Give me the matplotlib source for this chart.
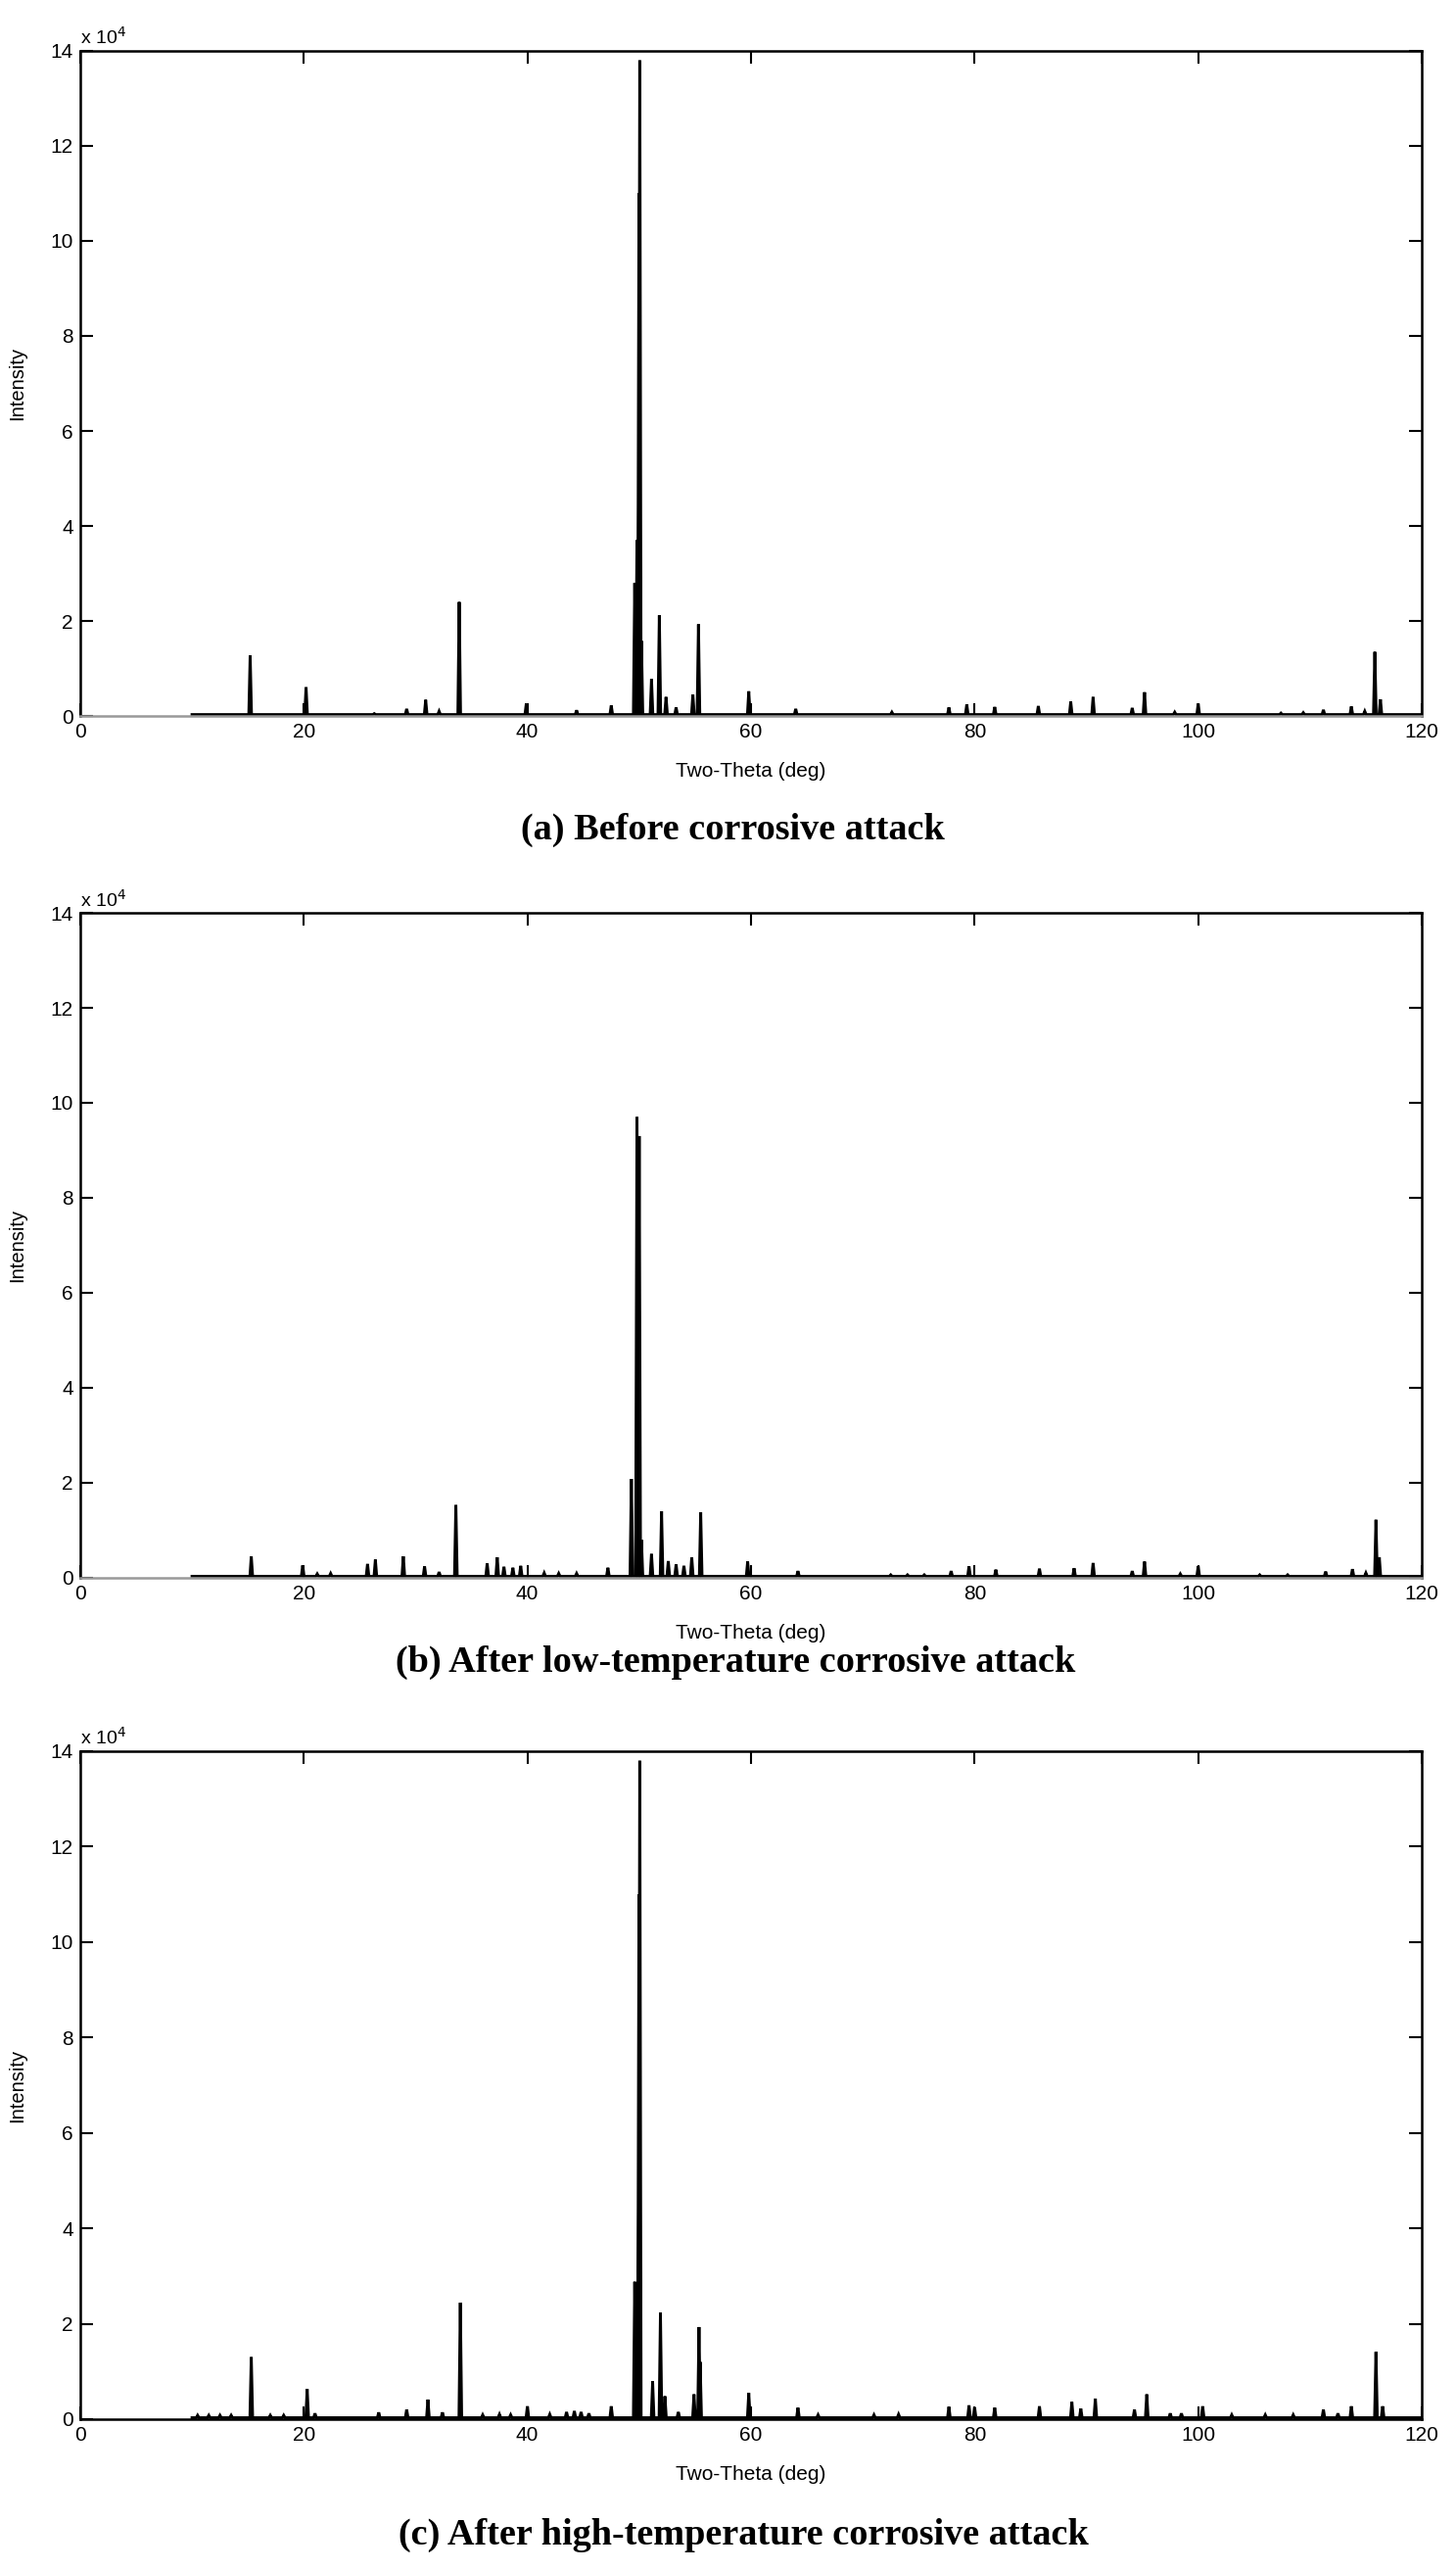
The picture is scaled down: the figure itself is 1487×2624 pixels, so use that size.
import matplotlib
matplotlib.use("Agg")
import matplotlib.pyplot as plt
from matplotlib.ticker import FuncFormatter, MultipleLocator

plt.rcParams['font.family'] = ['Liberation Sans', 'DejaVu Sans']

# peak positions (2-theta, deg) and intensities
pos_a = [15.2, 20.2, 26.3, 29.2, 30.9, 32.1, 33.9, 39.9, 44.4, 47.5,
         49.6, 49.8, 49.98, 50.05, 50.2, 51.1, 51.8, 52.4, 53.3, 54.8,
         55.3, 59.8, 64.0, 72.6, 77.7, 79.3, 81.8, 85.7, 88.6, 90.6,
         94.1, 95.2, 97.9, 100.0, 107.4, 109.4, 111.2, 113.7, 114.9, 115.8,
         116.3]
int_a = [12700, 6050, 500, 1500, 3400, 1000, 24000, 2600, 1200, 2200,
         28000, 37000, 110000, 138000, 15800, 7800, 21200, 4000, 1800, 4500,
         19300, 5200, 1500, 800, 1800, 2400, 1900, 2100, 3000, 4000,
         1700, 5000, 800, 2600, 600, 700, 1300, 2000, 1000, 13500,
         3500]

pos_b = [15.3, 19.9, 21.2, 22.4, 25.7, 26.4, 28.9, 30.8, 32.1, 33.6,
         36.4, 37.3, 37.9, 38.7, 39.4, 41.5, 42.8, 44.4, 47.2, 49.3,
         49.8, 50.0, 50.2, 51.1, 52.0, 52.6, 53.3, 54.0, 54.7, 55.5,
         59.7, 64.2, 72.5, 74.0, 75.5, 77.9, 79.5, 81.9, 85.8, 88.9,
         90.6, 94.1, 95.2, 98.4, 100.0, 105.5, 108.0, 111.4, 113.8, 115.0,
         115.9, 116.2]
int_b = [4500, 2600, 800, 900, 2900, 3800, 4500, 2400, 1200, 15300,
         3000, 4300, 2300, 2100, 2500, 1000, 900, 900, 2100, 20800,
         97000, 93000, 8000, 5000, 14000, 3500, 2800, 2500, 4300, 13800,
         3400, 1400, 600, 600, 600, 1400, 2400, 1700, 1900, 2000,
         3100, 1400, 3400, 800, 2400, 600, 600, 1300, 1800, 1000,
         12200, 4300]

pos_c = [10.5, 11.5, 12.5, 13.5, 15.3, 17.0, 18.2, 20.3, 21.0, 26.7,
         29.2, 31.1, 32.4, 34.0, 36.0, 37.5, 38.5, 40.0, 42.0, 43.5,
         44.2, 44.8, 45.5, 47.5, 49.6, 49.75, 49.98, 50.05, 51.2, 51.9,
         52.3, 53.5, 54.9, 55.35, 55.45, 59.8, 64.2, 66.0, 71.0, 73.2,
         77.7, 79.5, 80.0, 81.8, 85.8, 88.7, 89.5, 90.8, 94.3, 95.4,
         97.5, 98.5, 100.4, 103.0, 106.0, 108.5, 111.2, 112.5, 113.7, 115.9,
         116.5]
int_c = [800, 800, 800, 800, 13000, 800, 800, 6300, 1200, 1400,
         2000, 4100, 1400, 24400, 900, 1000, 900, 2700, 1000, 1500,
         1700, 1500, 1200, 2700, 28800, 24700, 110000, 138000, 7900, 22300,
         4800, 1500, 5200, 19300, 12000, 5500, 2400, 900, 900, 1000,
         2600, 2900, 2500, 2400, 2700, 3600, 2200, 4300, 2000, 5200,
         1200, 1200, 2700, 900, 900, 900, 2000, 1200, 2700, 14100,
         2700]

scan_start, scan_end = 10, 120
background = 300

captions = ['(a) Before corrosive attack',
            '(b) After low-temperature corrosive attack',
            '(c) After high-temperature corrosive attack']


def pattern(pos, inten, hw=0.12):
    # trace the scan as narrow spikes standing on the background
    xs, ys = [scan_start], [background]
    for p, h in sorted(zip(pos, inten)):
        xs += [p - hw, p, p + hw]
        ys += [background, h, background]
    xs.append(scan_end)
    ys.append(background)
    return xs, ys


fig = plt.figure(figsize=(14.87, 26.24), dpi=100)
rects = [[0.0551, 0.7214, 0.9214, 0.2588],
         [0.0551, 0.3861, 0.9214, 0.2587],
         [0.0551, 0.0587, 0.9214, 0.2599]]
cap_xy = [(0.503, 0.6772), (0.505, 0.3530), (0.511, 0.0137)]
data = [(pos_a, int_a), (pos_b, int_b), (pos_c, int_c)]

for i, (rect, (pos, inten)) in enumerate(zip(rects, data)):
    ax = fig.add_axes(rect)
    xs, ys = pattern(pos, inten)
    ax.plot(xs, ys, color='black', lw=2.1, solid_joinstyle='miter')

    ax.set_xlim(0, 120)
    ax.set_ylim(0, 140000)
    ax.xaxis.set_major_locator(MultipleLocator(20))
    ax.yaxis.set_major_locator(MultipleLocator(20000))
    ax.yaxis.set_major_formatter(FuncFormatter(lambda v, _: f'{v / 1e4:g}'))
    ax.tick_params(direction='in', top=True, right=True, length=9.5,
                   width=1.5, labelsize=15, pad=5)
    for s in ax.spines.values():
        s.set_linewidth(1.8)
    if i < 2:
        ax.spines['bottom'].set_color('#999999')

    ax.set_xlabel('Two-Theta (deg)', fontsize=15)
    ax.xaxis.set_label_coords(0.5, -0.069)
    ax.set_ylabel('Intensity', fontsize=14.5)
    ax.yaxis.set_label_coords(-0.040, 0.5)
    ax.text(0.0, 1.004, r'x 10$^{4}$', transform=ax.transAxes,
            ha='left', va='bottom', fontsize=14)

    fig.text(cap_xy[i][0], cap_xy[i][1], captions[i], ha='center', va='center',
             fontsize=27.5, fontweight='bold', family='Liberation Serif')

fig.savefig('out.png', dpi=100)
